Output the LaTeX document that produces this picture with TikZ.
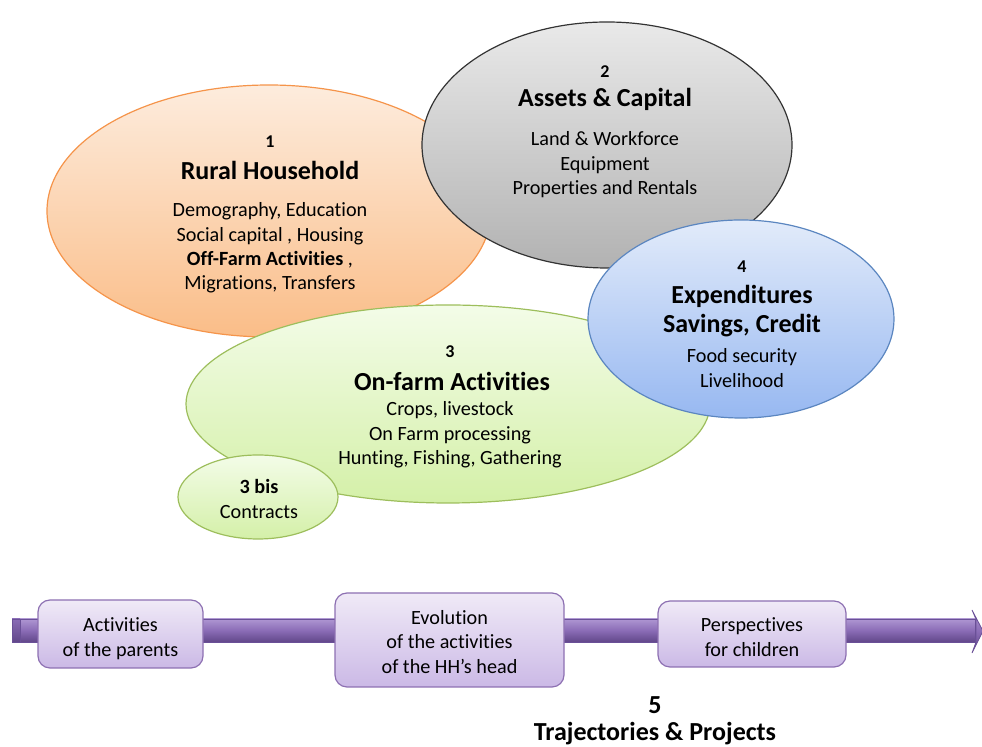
\documentclass[tikz,border=0pt]{standalone}
\usepackage{fontspec}
\setmainfont{Carlito}[Ligatures=NoCommon]
\usetikzlibrary{shapes.geometric}
\definecolor{orTop}{HTML}{FDECDD}
\definecolor{orBot}{HTML}{FABD88}
\definecolor{orLine}{HTML}{F5944A}
\definecolor{grTop}{HTML}{E9E9E9}
\definecolor{grBot}{HTML}{B2B2B2}
\definecolor{grLine}{HTML}{333333}
\definecolor{gnTop}{HTML}{F3FCE8}
\definecolor{gnBot}{HTML}{D4F0A8}
\definecolor{gnLine}{HTML}{9DBE5C}
\definecolor{blTop}{HTML}{E2EBFA}
\definecolor{blBot}{HTML}{97B8F1}
\definecolor{blLine}{HTML}{5B86C0}
\definecolor{pbTop}{HTML}{F0EAF7}
\definecolor{pbBot}{HTML}{CBB9E6}
\definecolor{pbLine}{HTML}{8D70B2}
\definecolor{arTop}{HTML}{AE96D2}
\definecolor{arMid}{HTML}{8A6CB6}
\definecolor{arBot}{HTML}{614789}
\definecolor{arLine}{HTML}{6A5097}
\tikzset{
  blob/.style={ellipse, inner sep=0pt, outer sep=0pt, line width=0.6pt},
  numtxt/.style={font=\bfseries\fontsize{9}{11}\selectfont, inner sep=0pt},
  titletxt/.style={font=\bfseries\fontsize{13}{15}\selectfont, inner sep=0pt, align=center},
  bodytxt/.style={font=\fontsize{10.1}{12.2}\selectfont, inner sep=0pt, align=center},
  pbox/.style={draw=pbLine, line width=0.6pt, rounded corners=6pt, top color=pbTop, bottom color=pbBot, inner sep=0pt},
  ptxt/.style={font=\fontsize{10.1}{12.4}\selectfont, align=center, inner sep=0pt},
}
\begin{document}
\begin{tikzpicture}[x=0.5pt,y=-0.5pt]
\useasboundingbox (0,0) rectangle (982,747);
% ellipses, back to front
\node[blob, draw=orLine, top color=orTop, bottom color=orBot, minimum width=222pt, minimum height=126pt] (hh) at (269,211) {};
\node[blob, draw=grLine, top color=grTop, bottom color=grBot, minimum width=185pt, minimum height=123pt] (assets) at (607,145) {};
\node[blob, draw=gnLine, top color=gnTop, bottom color=gnBot, minimum width=262pt, minimum height=99pt] (farm) at (448,404) {};
\node[blob, draw=blLine, top color=blTop, bottom color=blBot, minimum width=153pt, minimum height=99pt] (exp) at (741,319) {};
\node[blob, draw=gnLine, top color=gnTop, bottom color=gnBot, minimum width=80pt, minimum height=42pt] (contr) at (258,497) {};
% texts 1
\node[numtxt] (n1) at (270,142) {1};
\node[titletxt] (t1) at (270,170) {Rural Household};
\node[bodytxt] (b1) at (270,248) {Demography, Education\\Social capital , Housing\\\textbf{Off-Farm Activities} ,\\Migrations, Transfers};
% texts 2
\node[numtxt] (n2) at (605,72) {2};
\node[titletxt] (t2) at (605,99) {Assets \& Capital};
\node[bodytxt] (b2) at (605,165) {Land \& Workforce\\Equipment\\Properties and Rentals};
% texts 3
\node[numtxt] (n3) at (450,352) {3};
\node[titletxt] (t3) at (452,381) {On-farm Activities};
\node[bodytxt] (b3) at (450,435) {Crops, livestock\\On Farm processing\\Hunting, Fishing, Gathering};
% texts 4
\node[numtxt] (n4) at (742,267) {4};
\node[titletxt] (t4) at (742,311) {Expenditures\\[-0.5pt]Savings, Credit};
\node[bodytxt] (b4) at (742,368) {Food security\\Livelihood};
% 3 bis
\node[bodytxt] (b3b) at (259,499) {\textbf{3 bis}\\Contracts};
% timeline arrow
\shade[top color=arTop, bottom color=arBot, middle color=arMid, draw=arLine, line width=0.4pt]
  (12,619) rectangle (975,642);
\shade[top color=arMid, bottom color=arBot, draw=arLine, line width=0.4pt]
  (12,619) rectangle (20,642);
\shade[top color=arTop, bottom color=arBot, middle color=arMid, draw=arLine, line width=0.4pt]
  (972,610) .. controls (975,617) .. (976,619) -- (976,642) .. controls (975,645) .. (972,653) -- (983,631) -- cycle;
% boxes
\node[pbox, minimum width=82.5pt, minimum height=34pt] (p1) at (120.5,634) {};
\node[ptxt] (p1t) at (120.5,639) {Activities\\of the parents};
\node[pbox, minimum width=114.5pt, minimum height=47pt] (p2) at (449.5,640) {};
\node[ptxt] (p2t) at (449.5,642) {Evolution\\of the activities\\of the HH’s head};
\node[pbox, minimum width=94pt, minimum height=33pt] (p3) at (752,634) {};
\node[ptxt] (p3t) at (752,637) {Perspectives\\for children};
% label 5
\node[font=\bfseries\fontsize{13}{15}\selectfont, inner sep=0pt] (n5) at (655,705) {5};
\node[font=\bfseries\fontsize{13}{15}\selectfont, inner sep=0pt] (t5) at (655,734) {Trajectories \& Projects};
\end{tikzpicture}
\end{document}
